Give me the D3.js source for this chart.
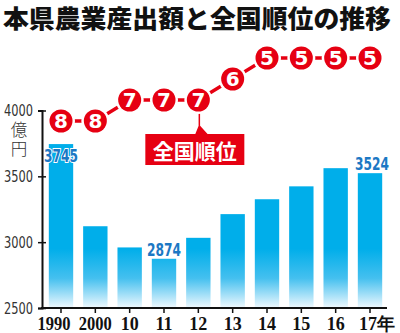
<!DOCTYPE html>
<html><head><meta charset="utf-8">
<script src="https://cdn.jsdelivr.net/npm/d3@7"></script>
<style>body{margin:0;background:#fff}svg{display:block}</style>
</head><body>
<svg id="c" width="400" height="333"></svg>
<script>
const years = ["1990","2000","10","11","12","13","14","15","16","17年"];
const output = [3745, 3121, 2960, 2874, 3033, 3213, 3326, 3424, 3562, 3524];
const ranks = [8, 8, 7, 7, 7, 6, 5, 5, 5, 5];
const yTicks = [2500, 3000, 3500, 4000];
const labeled = {"1990": "in", "11": "above", "17年": "above"};
const title = "本県農業産出額と全国順位の推移";
const unit = "億円";
const calloutText = "全国順位";

const RED = "#e60012", BLUE = "#00aeea";
const svg = d3.select("#c");
const x = d3.scaleBand().domain(years).range([44, 387]).paddingInner(0.29).paddingOuter(0.14);
const y = d3.scaleLinear().domain([2500, 4000]).range([308, 110.5]);
const r = d3.scaleLinear().domain([5, 8]).range([58, 121]);
const cx = d => x(d) + x.bandwidth() / 2;

const defs = svg.append("defs");
const g = defs.append("linearGradient").attr("id", "bg").attr("gradientUnits", "userSpaceOnUse")
  .attr("x1", 0).attr("x2", 0).attr("y1", y(2950)).attr("y2", y(2500));
g.append("stop").attr("offset", 0).attr("stop-color", BLUE);
g.append("stop").attr("offset", 0.5).attr("stop-color", "#45c0ef");
g.append("stop").attr("offset", 1).attr("stop-color", "#f0f9fe");

// title
svg.append("text").attr("x", 3).attr("y", 27.5).text(title)
  .attr("font-family", "'Noto Sans CJK JP'").attr("font-weight", 900).attr("font-size", 25)
  .attr("fill", "#111").attr("textLength", 388).attr("lengthAdjust", "spacingAndGlyphs");

// bars
svg.append("g").selectAll("rect").data(years).join("rect")
  .attr("x", d => x(d)).attr("width", x.bandwidth())
  .attr("y", (d, i) => y(output[i])).attr("height", (d, i) => y(2500) - y(output[i]))
  .attr("fill", "url(#bg)");

// bar labels
svg.append("g").selectAll("text").data(years.filter(d => labeled[d])).join("text")
  .attr("x", d => cx(d) + (d === "17年" ? 2 : 0))
  .attr("y", d => { const v = output[years.indexOf(d)]; return labeled[d] === "in" ? y(v) + 17.5 : y(v) - 3; })
  .attr("text-anchor", "middle").text(d => output[years.indexOf(d)])
  .attr("font-family", "'Liberation Sans Narrow','DejaVu Sans Condensed',sans-serif")
  .attr("font-weight", "bold").attr("font-size", 17).attr("fill", "#1c78c4")
  .attr("stroke", "#fff").attr("stroke-width", 2).attr("paint-order", "stroke")
  .attr("textLength", 34).attr("lengthAdjust", "spacingAndGlyphs");

// y axis
const ya = svg.append("g").attr("transform", "translate(42,0)")
  .call(d3.axisLeft(y).tickValues(yTicks).tickFormat(d3.format("d")).tickSizeOuter(0).tickSize(4).tickPadding(5));
ya.select(".domain").attr("stroke", "#111").attr("stroke-width", 2);
ya.selectAll(".tick line").attr("x1", 4).attr("x2", -4).attr("stroke", "#111").attr("stroke-width", 1.5);
ya.selectAll(".tick text").attr("font-family", "'Liberation Sans Narrow','DejaVu Sans Condensed',sans-serif")
  .attr("font-size", 15.5).attr("fill", "#333").attr("dy", "0.34em")
  .attr("textLength", 29).attr("lengthAdjust", "spacingAndGlyphs");
svg.append("text").attr("x", 19).attr("y", 121).text(unit)
  .attr("writing-mode", "tb").attr("letter-spacing", 3)
  .attr("font-family", "'Noto Sans CJK JP'").attr("font-weight", 300).attr("font-size", 16.5).attr("fill", "#333");

// x axis
const xa = svg.append("g").attr("transform", "translate(0,308)")
  .call(d3.axisBottom(x).tickSizeOuter(0).tickSize(5).tickPadding(4));
xa.select(".domain").attr("d", "M41,0H387").attr("stroke", "#111").attr("stroke-width", 2);
xa.selectAll(".tick line").attr("stroke", "#111").attr("stroke-width", 1.5);
xa.selectAll(".tick text").attr("font-family", "'Liberation Serif',serif").attr("font-weight", "bold")
  .attr("font-size", 18).attr("fill", "#111")
  .attr("dx", d => d === "17年" ? 7 : d === "1990" ? -7 : 0)
  .each(function(d) { if (d.length === 4 && !d.includes("年")) d3.select(this).attr("textLength", 33).attr("lengthAdjust", "spacingAndGlyphs"); });

// rank line
const line = d3.line().x((d, i) => cx(years[i])).y(d => r(d));
svg.append("path").datum(ranks).attr("d", line).attr("fill", "none").attr("stroke", RED).attr("stroke-width", 3.4);

// callout
const ci = years.indexOf("12");
const px = cx("12") + 1, py = r(ranks[ci]);
svg.append("path").attr("d", `M${px},${py}V${py + 26}L${px + 9},${py + 36}H${px - 4}L${px},${py + 26}Z`)
  .attr("fill", RED).attr("stroke", RED).attr("stroke-width", 1.5);
svg.append("rect").attr("x", px - 54).attr("y", py + 34).attr("width", 99).attr("height", 31).attr("fill", RED);
svg.append("text").attr("x", px - 4.5).attr("y", py + 58.5).attr("text-anchor", "middle").text(calloutText)
  .attr("font-family", "'Noto Sans CJK JP'").attr("font-weight", 700).attr("font-size", 21).attr("fill", "#fff");

// rank circles
const rc = svg.append("g").selectAll("g").data(ranks).join("g")
  .attr("transform", (d, i) => `translate(${cx(years[i])},${r(d)})`);
rc.append("circle").attr("r", 14).attr("fill", "#fff");
rc.append("circle").attr("r", 11.5).attr("fill", RED);
rc.append("text").attr("text-anchor", "middle").attr("dy", "0.37em").text(d => d)
  .attr("font-family", "'DejaVu Sans',sans-serif").attr("font-weight", "bold").attr("font-size", 20).attr("fill", "#fff");
</script>
</body></html>
